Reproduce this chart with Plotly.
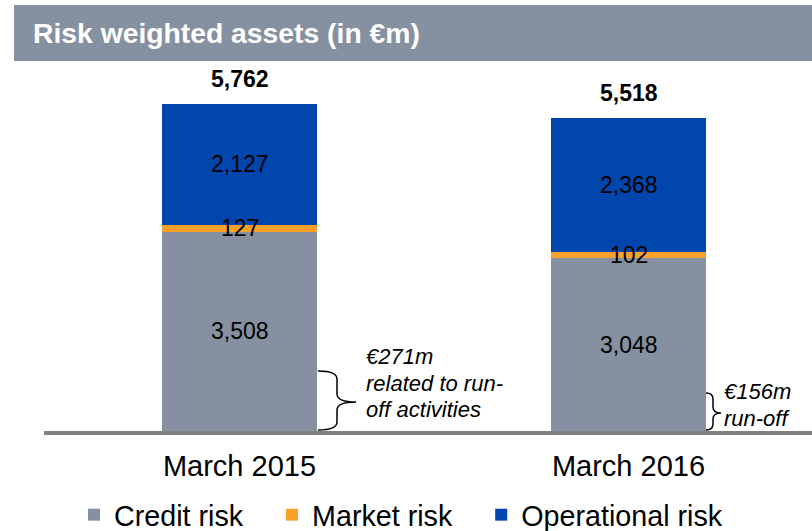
import plotly.graph_objects as go

categories = ["March 2015", "March 2016"]
credit_risk = [3508, 3048]
market_risk = [127, 102]
operational_risk = [2127, 2368]
totals = [5762, 5518]
series_names = ["Credit risk", "Market risk", "Operational risk"]
series_colors = ["#8591A1", "#F9A12B", "#0046AD"]

FONT = "Liberation Sans, Arial, sans-serif"
W, H = 812, 531
ML, MR, MT, MB = 44, 0, 60, 100
PW = W - ML - MR
PH = H - MT - MB
NB = "\u00a0"
PADS = [NB * 3, NB * 3, ""]


def px(x):
    return (x - ML) / PW


def py(y):
    return (H - MB - y) / PH


fig = go.Figure()
series_vals = [credit_risk, market_risk, operational_risk]
for name, vals, col, pad in zip(series_names, series_vals, series_colors, PADS):
    fig.add_trace(go.Bar(
        x=categories, y=vals, name=name + pad,
        marker=dict(color=col, line=dict(width=0)),
        width=0.3985, hoverinfo="skip",
    ))

annotations = []
# segment labels
for i, cat in enumerate(categories):
    cum = 0
    for vals in series_vals:
        v = vals[i]
        annotations.append(dict(
            x=cat, y=cum + v / 2, xref="x", yref="y", text=f"{v:,}",
            showarrow=False, font=dict(family=FONT, size=23, color="black"),
            xanchor="center", yanchor="middle",
        ))
        cum += v
    annotations.append(dict(
        x=cat, y=totals[i], xref="x", yref="y", text=f"<b>{totals[i]:,}</b>",
        showarrow=False, font=dict(family=FONT, size=23, color="black"),
        xanchor="center", yanchor="bottom", yshift=10,
    ))

# title
annotations.append(dict(
    x=px(31), y=py(33), xref="paper", yref="paper", xanchor="left", yanchor="middle",
    text="<b>Risk weighted assets (in €m)</b>", showarrow=False,
    font=dict(family=FONT, size=28.3, color="white"),
))

# notes
note_font = dict(family=FONT, size=22, color="black")
for txt, x, y in [("€271m", 364, 356), ("related to run-", 364, 383), ("off activities", 364, 409),
                  ("€156m", 722, 391), ("run-off", 722, 418)]:
    annotations.append(dict(
        x=px(x), y=py(y), xref="paper", yref="paper", xanchor="left", yanchor="middle",
        text=f"<i>{txt}</i>", showarrow=False, font=note_font,
    ))


def brace(xl, xv, xt, yt, ym, yb, r=8):
    pts = [
        f"M{px(xl)},{py(yt)}",
        f"Q{px(xv)},{py(yt)} {px(xv)},{py(yt + r)}",
        f"L{px(xv)},{py(ym - r)}",
        f"Q{px(xv)},{py(ym)} {px(xt)},{py(ym)}",
        f"Q{px(xv)},{py(ym)} {px(xv)},{py(ym + r)}",
        f"L{px(xv)},{py(yb - r)}",
        f"Q{px(xv)},{py(yb)} {px(xl)},{py(yb)}",
    ]
    return dict(type="path", path=" ".join(pts), xref="paper", yref="paper",
                line=dict(color="black", width=1.5))


shapes = [
    dict(type="rect", xref="paper", yref="paper", x0=px(14), x1=px(812), y0=py(61), y1=py(5),
         fillcolor="#8591A1", line=dict(width=0), layer="below"),
    brace(318, 337, 356, 371, 402, 430, r=8),
    brace(706, 713, 721, 393, 413, 430, r=6),
]

fig.update_layout(
    width=W, height=H,
    margin=dict(l=ML, r=MR, t=MT, b=MB, autoexpand=False),
    barmode="stack",
    plot_bgcolor="white", paper_bgcolor="white",
    font=dict(family=FONT, color="black"),
    xaxis=dict(
        type="category", range=[-0.5026, 1.4717], showgrid=False, zeroline=False,
        showline=True, linecolor="#808080", linewidth=4,
        ticks="outside", ticklen=6, tickcolor="rgba(0,0,0,0)",
        tickfont=dict(family=FONT, size=29, color="black"),
    ),
    yaxis=dict(range=[0, PH / 0.05675], visible=False, showgrid=False, zeroline=False),
    showlegend=True,
    legend=dict(
        orientation="h", xref="container", yref="paper", x=74 / W, xanchor="left",
        y=py(515), yanchor="middle", font=dict(family=FONT, size=28.7, color="black"),
        bgcolor="rgba(0,0,0,0)", traceorder="normal",
    ),
    annotations=annotations,
    shapes=shapes,
)

fig.write_html("out.html", config={"displayModeBar": False},
               post_script="document.body.style.margin='0';")
